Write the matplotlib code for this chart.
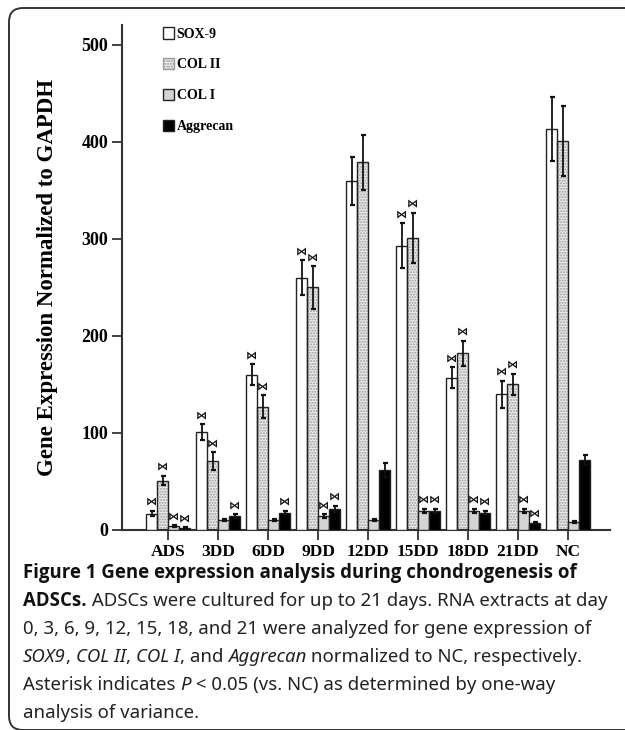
import matplotlib
matplotlib.use("Agg")
import matplotlib.pyplot as plt
import numpy as np
from matplotlib.patches import Patch, FancyBboxPatch

# ---------------- data ----------------
categories = ["ADS", "3DD", "6DD", "9DD", "12DD", "15DD", "18DD", "21DD", "NC"]
series_names = ["SOX-9", "COL II", "COL I", "Aggrecan"]
sox9 = [17, 101, 160, 260, 360, 293, 157, 140, 413]
sox9_err = [3, 8, 11, 18, 25, 23, 11, 14, 33]
col2 = [51, 71, 127, 250, 379, 301, 182, 150, 401]
col2_err = [5, 9, 12, 22, 28, 26, 13, 11, 36]
col1 = [4, 10, 10, 14, 10, 20, 20, 20, 8]
col1_err = [1, 1, 1, 2, 1, 2, 2, 2, 1]
aggrecan = [2, 14, 18, 22, 62, 20, 18, 7, 72]
aggrecan_err = [1, 2, 2, 3, 7, 2, 2, 1, 5]
# significance flags (asterisk) per series
sig_sox9 = [1, 1, 1, 1, 0, 1, 1, 1, 0]
sig_col2 = [1, 1, 1, 1, 0, 1, 1, 1, 0]
sig_col1 = [1, 0, 0, 1, 0, 1, 1, 1, 0]
sig_agg = [1, 1, 1, 1, 0, 1, 1, 1, 0]
yticks = [0, 100, 200, 300, 400, 500]
ylabel = "Gene Expression Normalized to GAPDH"

caption_lines = [
    [("Figure 1 Gene expression analysis during chondrogenesis of", "bold")],
    [("ADSCs.", "bold"), (" ADSCs were cultured for up to 21 days. RNA extracts at day", "normal")],
    [("0, 3, 6, 9, 12, 15, 18, and 21 were analyzed for gene expression of", "normal")],
    [("SOX9", "italic"), (", ", "normal"), ("COL II", "italic"), (", ", "normal"),
     ("COL I", "italic"), (", and ", "normal"), ("Aggrecan", "italic"),
     (" normalized to NC, respectively.", "normal")],
    [("Asterisk indicates ", "normal"), ("P", "italic"),
     (" < 0.05 (vs. NC) as determined by one-way", "normal")],
    [("analysis of variance.", "normal")],
]

W, H = 625, 730
fig = plt.figure(figsize=(W / 100, H / 100), dpi=100)

# background overlay in pixel coordinates
bg = fig.add_axes([0, 0, 1, 1], zorder=0)
bg.set_xlim(0, W)
bg.set_ylim(H, 0)
bg.axis("off")
frame = FancyBboxPatch((9, 8), 660, 722, boxstyle="round,pad=0,rounding_size=14",
                       fill=False, edgecolor="#333333", linewidth=1.4, clip_on=False)
bg.add_patch(frame)

serif = "Liberation Serif"
ax = fig.add_axes([122 / W, 1 - 530 / H, (610 - 122) / W, (530 - 25) / H], zorder=2)
ax.patch.set_alpha(0)

x = np.arange(len(categories))
bw = 0.22
offsets = [-0.33, -0.11, 0.11, 0.33]
vals = [sox9, col2, col1, aggrecan]
errs = [sox9_err, col2_err, col1_err, aggrecan_err]
sigs = [sig_sox9, sig_col2, sig_col1, sig_agg]
faces = ["white", "#ececec", "#d4d4d4", "black"]
hatches = [None, "......", None, None]
hatch_col = ["none", "#9a9a9a", "none", "none"]

for k in range(4):
    xs = x + offsets[k]
    if hatches[k]:
        ax.bar(xs, vals[k], bw, color=faces[k], hatch=hatches[k], edgecolor=hatch_col[k],
               linewidth=0, zorder=2)
        ax.bar(xs, vals[k], bw, facecolor="none", edgecolor="#222222", linewidth=1.0, zorder=3)
    else:
        ax.bar(xs, vals[k], bw, color=faces[k], edgecolor="#222222", linewidth=1.0, zorder=3)
    ax.errorbar(xs, vals[k], yerr=errs[k], fmt="none", ecolor="#111111", elinewidth=1.3,
                capsize=1.8, capthick=1.6, zorder=4)
    for i in range(len(categories)):
        if sigs[k][i]:
            ax.text(xs[i], vals[k][i] + errs[k][i] + 4, "\u22c8", ha="center", va="bottom",
                    fontsize=8, fontweight="bold", color="#111111", zorder=5,
                    family="DejaVu Sans")

ax.set_xlim(-0.92, 8.84)
ax.set_ylim(0, 520.6)
ax.set_yticks(yticks)
ax.set_yticklabels([str(t) for t in yticks], fontfamily=serif, fontweight="bold", fontsize=13)
ax.set_xticks(x)
ax.set_xticklabels(categories, fontfamily=serif, fontweight="bold", fontsize=12.5)
ax.tick_params(axis="both", direction="out", length=7, width=1.3, color="#333333", pad=3)
for s in ["top", "right"]:
    ax.spines[s].set_visible(False)
for s in ["left", "bottom"]:
    ax.spines[s].set_linewidth(1.5)
    ax.spines[s].set_color("#333333")
ax.set_ylabel(ylabel, fontfamily=serif, fontweight="bold", fontsize=16.5, labelpad=17)

handles = [
    Patch(facecolor="white", edgecolor="#222222", linewidth=1.0),
    Patch(facecolor="#ececec", edgecolor="#9a9a9a", hatch="......", linewidth=1.0),
    Patch(facecolor="#d4d4d4", edgecolor="#222222", linewidth=1.0),
    Patch(facecolor="black", edgecolor="#222222", linewidth=1.0),
]
leg = ax.legend(handles, series_names, loc="upper left", bbox_to_anchor=(0.072, 1.007),
                frameon=False, handlelength=0.8, handleheight=0.9, handletextpad=0.2,
                labelspacing=1.25, borderaxespad=0,
                prop={"family": serif, "weight": "bold", "size": 10})

# ---------------- caption ----------------
cap_font = "Noto Sans"
cap_bold_font = "Open Sans"
cap_size = 13.4
renderer = fig.canvas.get_renderer()


def style_kw(style):
    kw = dict(fontsize=cap_size, family=cap_font)
    if style == "bold":
        kw["family"] = cap_bold_font
        kw["fontweight"] = "bold"
    elif style == "italic":
        kw["fontstyle"] = "italic"
    return kw


def seg_width(txt, style):
    kw = style_kw(style)
    t1 = bg.text(0, 0, txt + "|", **kw)
    t2 = bg.text(0, 0, "|", **kw)
    w = t1.get_window_extent(renderer).width - t2.get_window_extent(renderer).width
    t1.remove()
    t2.remove()
    return w


y0 = 573
dy = 28
for li, line in enumerate(caption_lines):
    cx = 23
    cy = y0 + li * dy
    for txt, style in line:
        kw = style_kw(style)
        kw.update(va="center", ha="left", color="#111111" if style == "bold" else "#222222")
        bg.text(cx, cy, txt, **kw)
        cx += seg_width(txt, style)

fig.savefig("out.png", dpi=100)
